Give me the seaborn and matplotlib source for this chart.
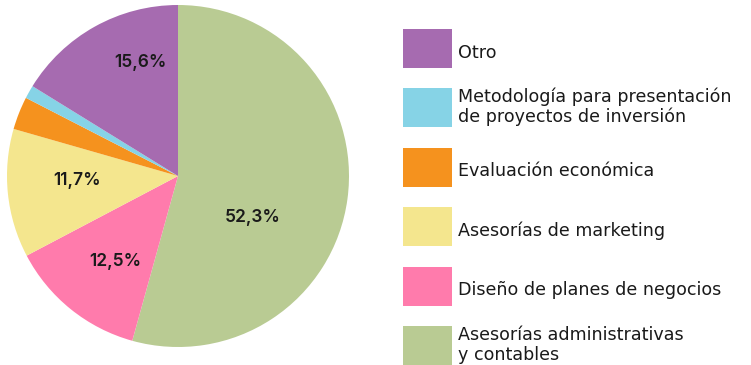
import matplotlib
matplotlib.use("Agg")
import matplotlib.pyplot as plt
from matplotlib.patches import Rectangle
import numpy as np
import seaborn as sns

# Service categories, in drawing order (clockwise from 12 o'clock)
categories = [
    "Asesorías administrativas\ny contables",
    "Diseño de planes de negocios",
    "Asesorías de marketing",
    "Evaluación económica",
    "Metodología para presentación\nde proyectos de inversión",
    "Otro",
]
shares = [52.3, 12.5, 11.7, 3.0, 1.2, 15.6]
show_label = [True, True, True, False, False, True]
colors = ["#B9CB93", "#FF7BAC", "#F4E68E", "#F5921E", "#86D3E6", "#A66BB0"]

# Legend order, top to bottom
legend_order = [5, 4, 3, 2, 1, 0]

sns.set_theme(style="white")
plt.rcParams["font.family"] = ["DejaVu Sans"]
text_color = "#1A1A1A"

W, H = 751, 365
fig = plt.figure(figsize=(W / 100, H / 100), dpi=100)
fig.patch.set_facecolor("white")

# Pie axes: centre (178, 176) px, radius 171 px
cx, cy, r = 178, 176, 171
ax = fig.add_axes([(cx - r) / W, (H - cy - r) / H, 2 * r / W, 2 * r / H])
wedges, _ = ax.pie(
    shares,
    colors=colors,
    startangle=90,
    counterclock=False,
    radius=1.0,
    wedgeprops=dict(linewidth=0),
)
ax.set_xlim(-1, 1)
ax.set_ylim(-1, 1)
ax.set_aspect("equal")
ax.axis("off")

# Percentage labels: (angle offset in degrees, radius fraction) per wedge
label_place = {0: (21.0, 0.50), 1: (-2.5, 0.62), 2: (3.6, 0.59), 5: (11.0, 0.70)}
for i, w in enumerate(wedges):
    if not show_label[i]:
        continue
    mid = 0.5 * (w.theta1 + w.theta2)
    d_ang, rad = label_place[i]
    ang = np.deg2rad(mid - d_ang)
    txt = f"{shares[i]:.1f}%".replace(".", ",")
    ax.text(rad * np.cos(ang), rad * np.sin(ang), txt, ha="center", va="center",
            fontsize=12.5, fontweight="semibold", color=text_color,
            family=["Inter", "DejaVu Sans"])

# Legend drawn in pixel coordinates
lax = fig.add_axes([0, 0, 1, 1])
lax.set_xlim(0, W)
lax.set_ylim(H, 0)
lax.axis("off")
top0, step = 29, 59.4
for k, idx in enumerate(legend_order):
    y0 = top0 + k * step
    lax.add_patch(Rectangle((403, y0), 49, 39, facecolor=colors[idx], edgecolor="none"))
    lines = categories[idx].split("\n")
    if len(lines) == 1:
        baselines = [y0 + 28.5]
    else:
        baselines = [y0 + 14.0, y0 + 33.5]
    for line, yb in zip(lines, baselines):
        lax.text(458, yb, line, ha="left", va="baseline",
                 fontsize=12.6, color=text_color)

fig.savefig("out.png", dpi=100, facecolor="white")
